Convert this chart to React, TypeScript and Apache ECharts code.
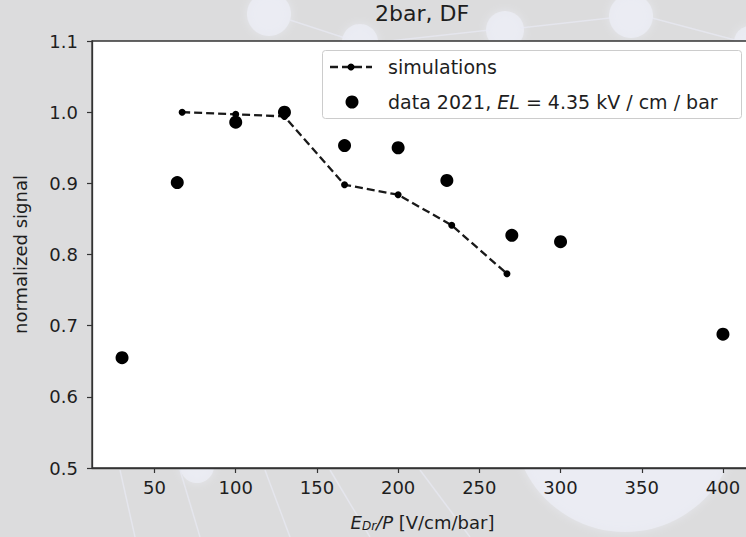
import React, { useEffect, useRef } from "react";
import * as echarts from "echarts";

const simX = [67, 100, 130, 167, 200, 233, 267];
const simY = [1.0, 0.997, 0.994, 0.898, 0.884, 0.841, 0.773];
const dataX = [30, 64, 100, 130, 167, 200, 230, 270, 300, 400];
const dataY = [0.655, 0.901, 0.986, 1.0, 0.953, 0.95, 0.904, 0.827, 0.818, 0.688];
const xTicks = [50, 100, 150, 200, 250, 300, 350, 400];
const titleText = "2bar, DF";
const yName = "normalized signal";
const simName = "simulations";

const FONT = "DejaVu Sans";
const INK = "#1e1e1e";

export default function App() {
  const ref = useRef<HTMLDivElement>(null);
  useEffect(() => {
    if (!ref.current) return;
    const chart = echarts.init(ref.current, undefined, { renderer: "svg" });
    const bgCircles = [
      [269, 14, 22], [360, 42, 18], [505, 30, 19], [631, 16, 22], [750, 42, 16],
      [197, 466, 17], [625, 420, 112],
    ].map(([cx, cy, r]) => ({
      type: "circle", z: -10, silent: true,
      shape: { cx, cy, r },
      style: { fill: "rgba(236,238,246,0.75)", shadowBlur: 10, shadowColor: "rgba(236,238,246,0.8)" },
    }));
    const bgLines = [
      [[290, 20], [345, 38]], [[380, 42], [490, 30]], [[520, 28], [610, 18]], [[652, 18], [735, 40]],
      [[120, 470], [135, 537]], [[180, 470], [200, 537]], [[265, 470], [290, 537]], [[330, 470], [370, 537]],
      [[420, 470], [470, 537]],
    ].map(([a, b]) => ({
      type: "line", z: -9, silent: true,
      shape: { x1: a[0], y1: a[1], x2: b[0], y2: b[1] },
      style: { stroke: "rgba(232,234,244,0.7)", lineWidth: 1.5 },
    }));
    const option: any = {
      animation: false,
      backgroundColor: "#dcdcdd",
      title: {
        text: titleText,
        left: 422,
        top: 2,
        padding: 0,
        textAlign: "center",
        textStyle: { fontFamily: FONT, fontSize: 22, fontWeight: "normal", color: INK },
      },
      grid: {
        left: 92, top: 41, right: -7, bottom: 69,
        show: true, backgroundColor: "#ffffff", borderColor: "#333333", borderWidth: 1.3,
        containLabel: false, outerBoundsMode: "none",
      },
      xAxis: {
        type: "value",
        min: 11.5,
        max: 418.5,
        splitLine: { show: false },
        axisLine: { show: true, onZero: false, lineStyle: { color: "#333333", width: 1.3 } },
        axisTick: { show: true, length: 5, customValues: xTicks, lineStyle: { color: "#333333", width: 1.2 } },
        axisLabel: { customValues: xTicks, margin: 10, color: INK, fontFamily: FONT, fontSize: 18 },
        name: "{i|E}{s|Dr}{i|/P} [V/cm/bar]",
        nameLocation: "middle",
        nameGap: 45,
        nameTextStyle: {
          color: INK, fontFamily: FONT, fontSize: 18,
          rich: {
            i: { fontFamily: FONT, fontSize: 18, fontStyle: "italic", color: INK },
            s: { fontFamily: FONT, fontSize: 12, fontStyle: "italic", color: INK, padding: [7, 0, 0, 0] },
          },
        },
      },
      yAxis: {
        type: "value",
        min: 0.5,
        max: 1.1,
        interval: 0.1,
        splitLine: { show: false },
        axisLine: { show: true, lineStyle: { color: "#333333", width: 1.3 } },
        axisTick: { show: true, length: 5, lineStyle: { color: "#333333", width: 1.2 } },
        axisLabel: {
          margin: 14, color: INK, fontFamily: FONT, fontSize: 18,
          formatter: (v: number) => v.toFixed(1),
        },
        name: yName,
        nameLocation: "middle",
        nameGap: 63,
        nameTextStyle: { color: INK, fontFamily: FONT, fontSize: 18 },
      },
      series: [
        {
          name: simName,
          type: "line",
          data: simX.map((x, i) => [x, simY[i]]),
          symbol: "circle",
          symbolSize: 7,
          itemStyle: { color: "#000000", opacity: 1 },
          lineStyle: { color: "#000000", width: 2.3, type: [8, 4], opacity: 0.9 },
          z: 3,
        },
        {
          name: "data 2021",
          type: "scatter",
          data: dataX.map((x, i) => [x, dataY[i]]),
          symbol: "circle",
          symbolSize: 13,
          itemStyle: { color: "#000000", opacity: 1 },
          z: 2,
        },
      ],
      graphic: [
        ...bgCircles,
        ...bgLines,
        {
          type: "group", x: 322, y: 50, z: 100,
          children: [
            {
              type: "rect", shape: { x: 0.5, y: 0.5, width: 419, height: 68, r: 3 },
              style: { fill: "rgba(255,255,255,0.85)", stroke: "#cccccc", lineWidth: 1 },
            },
            {
              type: "line", shape: { x1: 8, y1: 17, x2: 50, y2: 17 },
              style: { stroke: "#000000", lineWidth: 2.3, lineDash: [8, 4], opacity: 0.9 },
            },
            { type: "circle", shape: { cx: 29, cy: 17, r: 3.5 }, style: { fill: "#000000" } },
            {
              type: "text", x: 66, y: 17,
              style: { text: simName, fontFamily: FONT, fontSize: 19, fill: INK, verticalAlign: "middle" },
            },
            { type: "circle", shape: { cx: 30, cy: 52, r: 6.5 }, style: { fill: "#000000" } },
            {
              type: "text", x: 66, y: 52,
              style: {
                text: "data 2021, {i|EL} = 4.35 kV / cm / bar",
                fontFamily: FONT, fontSize: 19, fill: INK, verticalAlign: "middle",
                rich: { i: { fontFamily: FONT, fontSize: 19, fontStyle: "italic", fill: INK } },
              },
            },
          ],
        },
      ],
    };
    chart.setOption(option);
    return () => chart.dispose();
  }, []);
  return (
    <div
      ref={ref}
      style={{ position: "fixed", left: 0, top: 0, width: 746, height: 537 }}
    />
  );
}
